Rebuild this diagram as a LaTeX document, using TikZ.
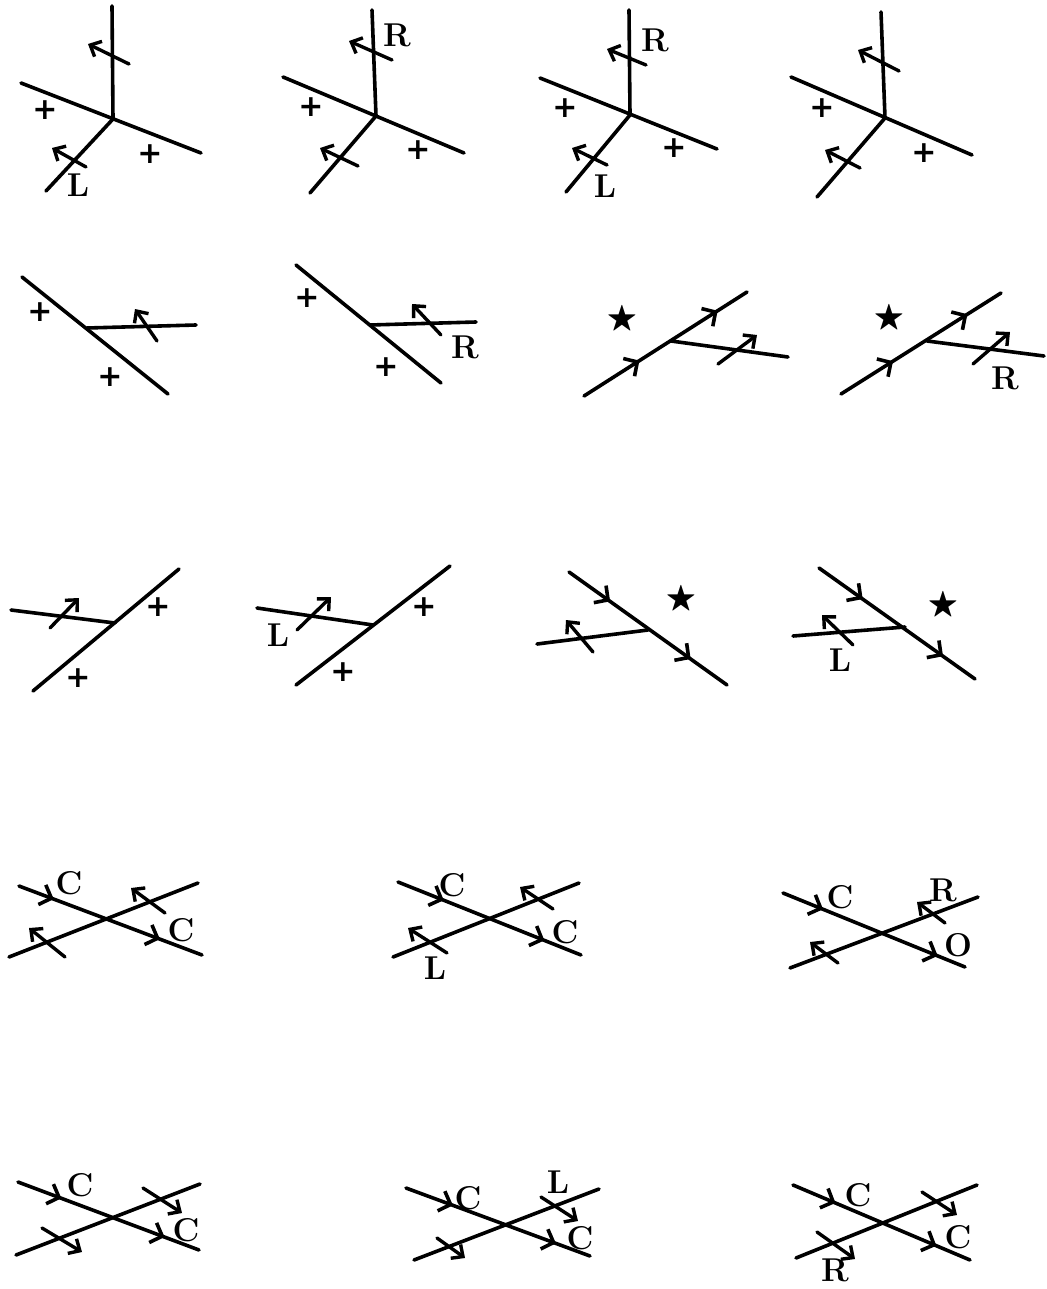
\documentclass[tikz,border=0pt]{standalone}
\usepackage{xcolor}
\usepackage{amsmath,amssymb}
\usepackage{fontspec}
\newfontfamily\plusfont{DejaVu Sans}
\usepackage{tikz}
\usetikzlibrary{arrows.meta, decorations.markings}
\tikzset{
    strand/.style={line width=3.6pt, line cap=round, black},
    barbed/.style 2 args={postaction={decorate}, decoration={markings,
        mark=at position #1 with {\arrow{Straight Barb[length=10pt, width=21pt]}},
        mark=at position #2 with {\arrow{Straight Barb[length=10pt, width=21pt]}}}},
    tickarrow/.style={-{Straight Barb[length=9pt, width=17pt]}, line width=3.4pt, line cap=round, black},
    plussign/.style={font=\fontsize{30}{30}\plusfont\bfseries, inner sep=0pt},
    starsign/.style={font=\fontsize{32}{32}\selectfont, inner sep=0pt},
    letter/.style={font=\fontsize{33}{33}\selectfont\bfseries, inner sep=0pt}
}
\begin{document}
\begin{tikzpicture}[x=1pt, y=-1pt]
    \useasboundingbox (0,0) rectangle (1046,1289);

    % Plain strands: the long lines and legs of the first rows, second lines of the crossings
    \foreach \name/\ax/\ay/\bx/\by in {
        l1/21/83/201/153, u1/112/6/113/119, d1/113/119/46/191,
        l2/283/77/464/153, u2/372/10/376/116, d2/376/116/310/193,
        l3/540/78/717/149, u3/629/10/630/115, d3/630/115/566/192,
        l4/791/77/972/155, u4/881/12/885/118, d4/885/118/817/197,
        l5/22/277/168/394, r5/87/328/196/325,
        l6/296/265/441/383, r6/370/325/476/322,
        r7/671/341/788/357, r8/927/341/1044/356,
        l9/33/691/179/569, r9/115/623/11/610,
        l10/296/685/450/566, r10/373/625/257/608,
        r11/648/630/537/644, r12/905/627/793/636,
        x13/9/957/198/883, x14/393/957/579/883, x15/790/968/978/897,
        x16/16/1255/200/1184, x17/414/1260/599/1189, x18/796/1258/977/1185} {
        \coordinate (\name a) at (\ax,\ay);
        \coordinate (\name b) at (\bx,\by);
        \draw[strand] (\name a) -- (\name b);
    }

    % Strands with two barbs along them
    \foreach \name/\ax/\ay/\bx/\by/\pa/\pb in {
        s7/584/396/747/292/0.34/0.82, s8/841/394/1001/293/0.325/0.79,
        s11/569/572/727/685/0.26/0.77, s12/819/568/975/679/0.28/0.795,
        s13/19/886/202/955/0.19/0.77, s14/398/882/581/955/0.25/0.8,
        s15/783/893/965/967/0.22/0.85, s16/18/1182/199/1250/0.24/0.81,
        s17/406/1188/590/1256/0.255/0.815, s18/793/1185/970/1260/0.24/0.81} {
        \coordinate (\name a) at (\ax,\ay);
        \coordinate (\name b) at (\bx,\by);
        \draw[strand, barbed={\pa}{\pb}] (\name a) -- (\name b);
    }

    % Short arrows across the strands
    \foreach \name/\ax/\ay/\bx/\by in {
        t1/129/64/88/44, v1/86/167/52/148,
        t2/392/60/349/41, v2/358/166/320/148,
        t3/646/65/607/49, v3/607/165/572/148,
        t4/899/71/858/50, v4/860/168/825/150,
        t5/157/341/135/309, t6/441/335/412/304,
        t7/718/364/757/335, t8/973/364/1010/332,
        t9/50/628/79/598, t10/297/630/331/597,
        t11/593/652/566/620, t12/853/645/822/615,
        t13/165/913/131/888, v13/65/957/29/928,
        t14/553/909/520/887, v14/447/953/408/928,
        t15/945/923/917/902, v15/838/963/810/942,
        t16/143/1188/182/1213, v16/42/1228/82/1252,
        t17/541/1197/578/1221, v17/437/1238/465/1258,
        t18/922/1192/957/1215, v18/817/1232/855/1259} {
        \coordinate (\name a) at (\ax,\ay);
        \coordinate (\name b) at (\bx,\by);
        \draw[tickarrow] (\name a) -- (\name b);
    }

    % Plus signs
    \foreach \name/\x/\y in {
        p1a/45/110, p1b/150/154, p2a/311/107, p2b/418/150,
        p3a/565/108, p3b/674/148, p4a/822/108, p4b/924/153,
        p5a/40/312, p5b/110/377, p6a/307/298, p6b/386/367,
        p9a/158/607, p9b/78/678, p10a/424/607, p10b/343/672} {
        \node[plussign] (\name) at (\x,\y) {+};
    }

    % Stars
    \foreach \name/\x/\y in {q7/622/320, q8/889/319, q11/681/600, q12/943/606} {
        \node[starsign] (\name) at (\x,\y) {$\bigstar$};
    }

    % Letters
    \foreach \name/\x/\y/\txt in {
        n1/78/185/L, n2/397/35/R, n3a/655/40/R, n3b/605/186/L,
        n6/465/347/R, n8/1005/378/R, n10/278/635/L, n12/840/660/L,
        n13a/69/883/C, n13b/181/930/C, n14a/452/885/C, n14b/565/932/C, n14c/435/968/L,
        n15a/840/897/C, n15b/943/890/R, n15c/958/945/O,
        n16a/80/1185/C, n16b/186/1230/C,
        n17a/468/1198/C, n17b/580/1238/C, n17c/558/1182/L,
        n18a/858/1195/C, n18b/958/1237/C, n18c/835/1270/R} {
        \node[letter] (\name) at (\x,\y) {\txt};
    }
\end{tikzpicture}
\end{document}
